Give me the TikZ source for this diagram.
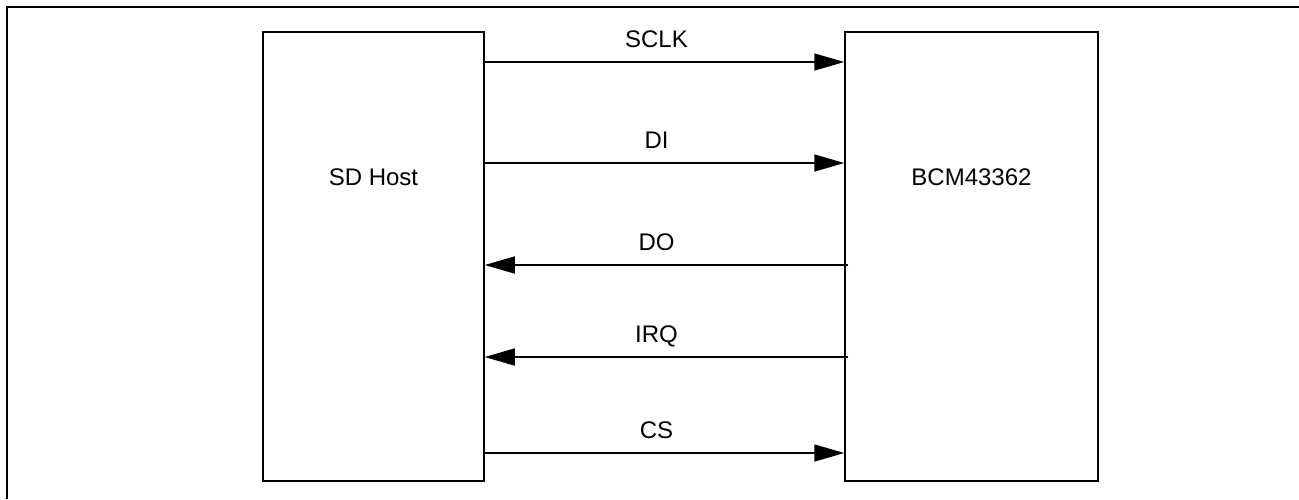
\documentclass[tikz,border=0pt]{standalone}
\usepackage{fontspec}
\setmainfont{Liberation Sans}
\usetikzlibrary{calc,arrows.meta,positioning}

\begin{document}
\begin{tikzpicture}[x=0.5pt,y=-0.5pt,
  blk/.style={draw,line width=0.75pt,fill=white,minimum height=224.5pt,inner sep=0pt},
  sig/.style={line width=0.75pt,-{Triangle[length=15pt,width=8.5pt]}},
  lbl/.style={font=\fontsize{12}{14}\selectfont,anchor=base,inner sep=0pt}]
  \useasboundingbox (0,0) rectangle (1299,499);
  % frame of the page, only top and left edge are in view
  \draw[line width=0.85pt] (7,499) -- (7,7) -- (1299,7);
  % the two chips
  \node[blk,minimum width=110.5pt] (host) at (373.5,256.5) {};
  \node[blk,minimum width=126.5pt] (bcm) at (971.5,256.5) {};
  \node[lbl] (hostname) at ([yshift=-77pt]host.north) {SD Host};
  \node[lbl] (bcmname) at ([yshift=-77pt]bcm.north) {BCM43362};
  % heights of the five signal lines
  \foreach \name/\yy in {sclk/62,di/163,do/265,irq/357,cs/453}
    \coordinate (\name) at (0,\yy);
  % host to chip
  \draw[sig] (host.east |- sclk) -- (bcm.west |- sclk) node[lbl,midway,xshift=-4pt,yshift=7.5pt]{SCLK};
  \draw[sig] (host.east |- di) -- (bcm.west |- di) node[lbl,midway,xshift=-4pt,yshift=7.5pt]{DI};
  % chip back to host
  \draw[sig] ($(bcm.west |- do)+(4,0)$) -- (host.east |- do) node[lbl,midway,xshift=-5pt,yshift=7.5pt]{DO};
  \draw[sig] ($(bcm.west |- irq)+(4,0)$) -- (host.east |- irq) node[lbl,midway,xshift=-5pt,yshift=7.5pt]{IRQ};
  \draw[sig] (host.east |- cs) -- (bcm.west |- cs) node[lbl,midway,xshift=-4pt,yshift=7.5pt]{CS};
\end{tikzpicture}
\end{document}
